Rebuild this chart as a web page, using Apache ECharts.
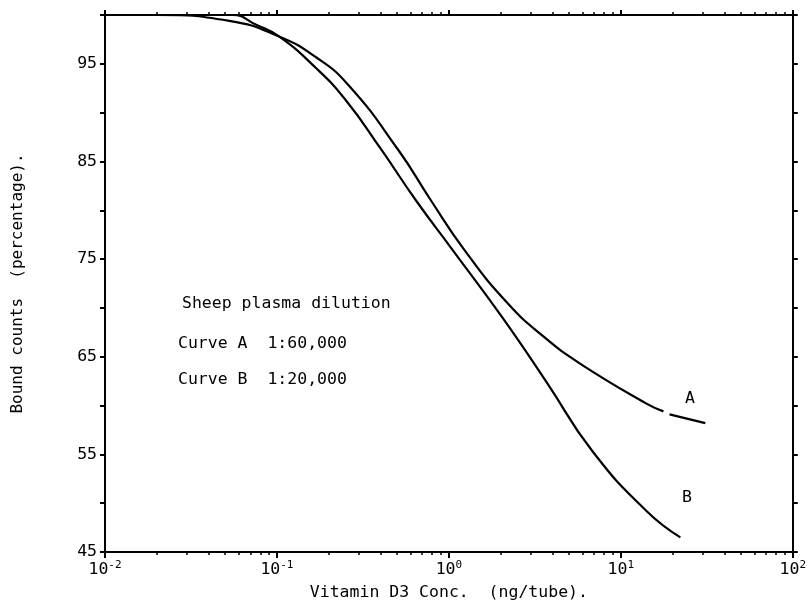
<!DOCTYPE html>
<html>
<head>
<meta charset="utf-8">
<script src="https://cdn.jsdelivr.net/npm/echarts@6/dist/echarts.min.js"></script>
<style>
  html, body { margin: 0; padding: 0; background: #fff; }
  #chart { width: 809px; height: 610px; }
</style>
</head>
<body>
<div id="chart"></div>
<script>
// Vitamin D3 concentration (ng/tube) and bound counts (%) for both dilutions
const concA  = [0.01, 0.02, 0.0528, 0.1028, 0.168, 0.261, 0.507, 0.787, 1.236, 2.19, 3.59, 5.79, 14.1, 17.7, 18.4, 19.2, 31.0];
const boundA = [100, 100, 99.4, 97.8, 95.7, 92.8, 86.2, 81.0, 75.9, 70.5, 67.0, 64.3, 60.2, 59.4, null, 59.1, 58.2];
const concB  = [0.01, 0.055, 0.0757, 0.1028, 0.168, 0.251, 0.405, 0.644, 1.055, 2.05, 3.73, 6.79, 14.1, 22.2];
const boundB = [100, 100, 99.0, 97.8, 94.6, 91.3, 86.2, 81.0, 75.9, 69.0, 62.3, 55.4, 49.2, 46.5];

// Axis ticks
const decadeTicks = [0.01, 0.1, 1, 10, 100];
const minorTicks = [];
[0.01, 0.1, 1, 10].forEach(d => { for (let k = 2; k <= 9; k++) minorTicks.push(+(d * k).toPrecision(3)); });
const yLabelValues = [45, 55, 65, 75, 85, 95];

const legendLines = ['Sheep plasma dilution', 'Curve A  1:60,000', 'Curve B  1:20,000'];

const FONT = 'DejaVu Sans Mono';
const INK = '#000';

const pairs = (xs, ys) => xs.map((x, i) => [x, ys[i] === null ? '-' : ys[i]]);

const chart = echarts.init(document.getElementById('chart'), null, { renderer: 'canvas' });

const logAxisBase = {
  type: 'log', logBase: 10, min: 0.01, max: 100,
  splitLine: { show: false },
  axisLine: { show: true, lineStyle: { color: INK, width: 2 } },
  axisLabel: { show: false }
};

chart.setOption({
  animation: false,
  backgroundColor: '#fff',
  textStyle: { fontFamily: FONT, color: INK },
  grid: { left: 105, right: 12, top: 15, bottom: 58, containLabel: false },
  xAxis: [
    Object.assign({}, logAxisBase, {
      position: 'bottom',
      name: 'Vitamin D3 Conc.  (ng/tube).',
      nameLocation: 'middle', nameGap: 32,
      nameTextStyle: { fontFamily: FONT, fontSize: 16.5, color: INK },
      axisTick: { show: true, customValues: decadeTicks, length: 6, lineStyle: { color: INK, width: 2 } },
      axisLabel: {
        show: true, customValues: decadeTicks, margin: 8, color: INK,
        formatter: v => '{b|10}{e|' + Math.round(Math.log10(v)) + '}',
        rich: {
          b: { fontFamily: FONT, fontSize: 16.5, color: INK },
          e: { fontFamily: FONT, fontSize: 11, color: INK, verticalAlign: 'top', padding: [0, 0, 8, 0] }
        }
      }
    }),
    Object.assign({}, logAxisBase, {
      position: 'bottom',
      axisTick: { show: true, customValues: minorTicks, length: 3, lineStyle: { color: INK, width: 1.5 } }
    }),
    Object.assign({}, logAxisBase, {
      position: 'top',
      axisTick: { show: true, customValues: decadeTicks, length: 5, lineStyle: { color: INK, width: 2 } }
    }),
    Object.assign({}, logAxisBase, {
      position: 'top',
      axisTick: { show: true, customValues: minorTicks, length: 3, lineStyle: { color: INK, width: 1.5 } }
    })
  ],
  yAxis: [
    {
      type: 'value', min: 45, max: 100, interval: 5, position: 'left',
      name: 'Bound counts  (percentage).',
      nameLocation: 'middle', nameGap: 79, nameRotate: 90,
      nameTextStyle: { fontFamily: FONT, fontSize: 16, color: INK },
      splitLine: { show: false },
      axisLine: { show: true, lineStyle: { color: INK, width: 2 } },
      axisTick: { show: true, length: 5, lineStyle: { color: INK, width: 2 } },
      axisLabel: {
        margin: 8, fontFamily: FONT, fontSize: 16.5, color: INK,
        formatter: v => yLabelValues.includes(v) ? String(v) : ''
      }
    },
    {
      type: 'value', min: 45, max: 100, interval: 5, position: 'right',
      splitLine: { show: false },
      axisLine: { show: true, lineStyle: { color: INK, width: 2 } },
      axisTick: { show: true, length: 5, lineStyle: { color: INK, width: 2 } },
      axisLabel: { show: false }
    }
  ],
  series: [
    {
      name: 'A', type: 'line', xAxisIndex: 0, yAxisIndex: 0,
      data: pairs(concA, boundA),
      smooth: 0.5, showSymbol: false, connectNulls: false,
      lineStyle: { color: INK, width: 2.2 }
    },
    {
      name: 'B', type: 'line', xAxisIndex: 0, yAxisIndex: 0,
      data: pairs(concB, boundB),
      smooth: 0.5, showSymbol: false,
      lineStyle: { color: INK, width: 2.2 }
    }
  ],
  graphic: [
    { type: 'text', left: 182, top: 295, style: { text: legendLines[0], font: '16.5px "' + FONT + '"', fill: INK } },
    { type: 'text', left: 178, top: 335, style: { text: legendLines[1], font: '16.5px "' + FONT + '"', fill: INK } },
    { type: 'text', left: 178, top: 371, style: { text: legendLines[2], font: '16.5px "' + FONT + '"', fill: INK } },
    { type: 'text', left: 685, top: 390, style: { text: 'A', font: '16.5px "' + FONT + '"', fill: INK } },
    { type: 'text', left: 682, top: 489, style: { text: 'B', font: '16.5px "' + FONT + '"', fill: INK } }
  ]
});
</script>
</body>
</html>
